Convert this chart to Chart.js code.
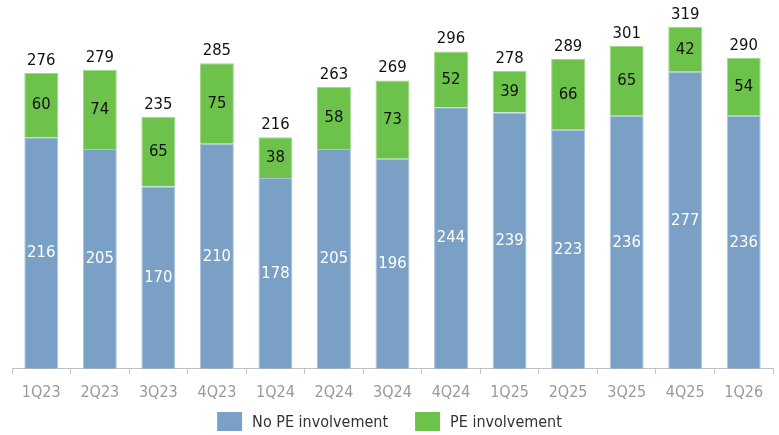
<!DOCTYPE html>
<html>
<head>
<meta charset="utf-8">
<script src="https://cdn.jsdelivr.net/npm/chart.js@4.4.1/dist/chart.umd.min.js"></script>
<style>
  html, body { margin: 0; padding: 0; background: #fff; }
  #wrap { width: 779px; height: 435px; position: relative; }
</style>
</head>
<body>
<div id="wrap"><canvas id="chart"></canvas></div>
<script>
const quarters = ['1Q23', '2Q23', '3Q23', '4Q23', '1Q24', '2Q24', '3Q24', '4Q24', '1Q25', '2Q25', '3Q25', '4Q25', '1Q26'];
const noPE = [216, 205, 170, 210, 178, 205, 196, 244, 239, 223, 236, 277, 236];
const withPE = [60, 74, 65, 75, 38, 58, 73, 52, 39, 66, 65, 42, 54];

const FONT = "'DejaVu Sans Condensed', 'DejaVu Sans', sans-serif";

// segment values and totals drawn on top of the bars
const labelPlugin = {
  id: 'barLabels',
  afterDatasetsDraw(chart) {
    const ctx = chart.ctx;
    ctx.save();
    ctx.textAlign = 'center';
    ctx.textBaseline = 'middle';
    ctx.font = '16.5px ' + FONT;
    chart.data.datasets.forEach((ds, di) => {
      const meta = chart.getDatasetMeta(di);
      meta.data.forEach((bar, i) => {
        ctx.fillStyle = di === 0 ? '#ffffff' : '#111111';
        ctx.fillText(ds.data[i], bar.x, (bar.y + bar.base) / 2);
      });
    });
    const top = chart.getDatasetMeta(1).data;
    ctx.fillStyle = '#111111';
    ctx.textBaseline = 'alphabetic';
    top.forEach((bar, i) => {
      ctx.fillText(noPE[i] + withPE[i], bar.x, bar.y - 8);
    });
    ctx.restore();
  }
};

// legend drawn by hand so the spacing can match
const legendPlugin = {
  id: 'bottomLegend',
  afterDraw(chart) {
    const ctx = chart.ctx;
    const ds = chart.data.datasets;
    ctx.save();
    ctx.font = '16px ' + FONT;
    const boxW = 25, boxH = 19, gap = 10, itemGap = 27;
    const widths = ds.map(d => ctx.measureText(d.label).width);
    let total = 0;
    widths.forEach((w, i) => { total += boxW + gap + w + (i < widths.length - 1 ? itemGap : 0); });
    let x = chart.width / 2 - total / 2;
    const y = 412;
    ctx.textBaseline = 'middle';
    ctx.textAlign = 'left';
    ds.forEach((d, i) => {
      ctx.fillStyle = d.backgroundColor;
      ctx.fillRect(x, y, boxW, boxH);
      ctx.fillStyle = '#333333';
      ctx.fillText(d.label, x + boxW + gap, y + boxH / 2 + 1);
      x += boxW + gap + widths[i] + itemGap;
    });
    ctx.restore();
  }
};

new Chart(document.getElementById('chart').getContext('2d'), {
  type: 'bar',
  data: {
    labels: quarters,
    datasets: [
      { label: 'No PE involvement', data: noPE, backgroundColor: '#7BA0C5', borderColor: '#A9C3DD', borderWidth: 1 },
      { label: 'PE involvement', data: withPE, backgroundColor: '#6CC24B', borderColor: '#9DD886', borderWidth: 1 }
    ]
  },
  options: {
    responsive: true,
    maintainAspectRatio: false,
    animation: false,
    layout: { padding: { left: 12, right: 6, top: 0, bottom: 24 } },
    datasets: { bar: { categoryPercentage: 1, barPercentage: 0.58 } },
    plugins: {
      legend: { display: false },
      tooltip: { enabled: false }
    },
    scales: {
      x: {
        stacked: true,
        grid: { display: true, drawOnChartArea: false, drawTicks: true, tickLength: 5, color: '#c0c0c0' },
        border: { display: true, color: '#c0c0c0' },
        ticks: { color: '#999999', font: { size: 16, family: FONT }, padding: 9 }
      },
      y: {
        stacked: true,
        display: false,
        min: 0,
        max: 344
      }
    }
  },
  plugins: [labelPlugin, legendPlugin]
});
</script>
</body>
</html>
